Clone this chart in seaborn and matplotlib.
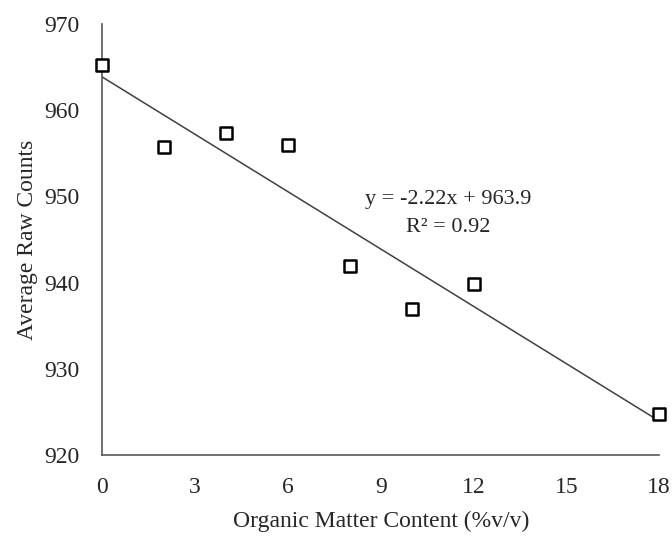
import matplotlib
matplotlib.use("Agg")
import matplotlib.pyplot as plt
import seaborn as sns
import pandas as pd

organic_matter = [0, 2, 4, 6, 8, 10, 12, 18]
raw_counts = [965.3, 955.7, 957.4, 956.0, 941.9, 936.9, 939.9, 924.8]
x_ticks = [0, 3, 6, 9, 12, 15, 18]
y_ticks = [920, 930, 940, 950, 960, 970]
equation_text = "y = -2.22x + 963.9"
r2_text = "R² = 0.92"

sns.set_theme(style="white")
plt.rcParams["font.family"] = ["Liberation Serif", "DejaVu Serif"]

df = pd.DataFrame({"x": organic_matter, "y": raw_counts})

fig = plt.figure(figsize=(6.72, 5.36), dpi=100)
ax = fig.add_axes([0.152, 0.151, 0.829, 0.804])

sns.regplot(data=df, x="x", y="y", ax=ax, ci=None, truncate=True,
            scatter=False, line_kws=dict(color="#404040", lw=1.1, zorder=2))
sns.scatterplot(data=df, x="x", y="y", ax=ax, marker="s", s=70,
                facecolor="white", edgecolor="black", linewidth=1.8, zorder=3,
                clip_on=False)

ax.set_xlim(0, 18)
ax.set_ylim(920, 970)
ax.set_xticks(x_ticks)
ax.set_yticks(y_ticks)
ax.tick_params(axis="both", length=0, labelsize=17, colors="#262626")
ax.tick_params(axis="x", pad=16)
ax.tick_params(axis="y", pad=16)
for s in ["top", "right"]:
    ax.spines[s].set_visible(False)
for s in ["left", "bottom"]:
    ax.spines[s].set_color("#595959")
    ax.spines[s].set_linewidth(1.2)

ax.set_xlabel("Organic Matter Content (%v/v)", fontsize=17, color="#262626", labelpad=9)
ax.set_ylabel("Average Raw Counts", fontsize=17, color="#262626", labelpad=5)

ax.text(11.19, 949.7, equation_text, ha="center", va="center", fontsize=16, color="#262626")
ax.text(11.19, 946.4, r2_text, ha="center", va="center", fontsize=16, color="#262626")

fig.savefig("out.png", dpi=100)
